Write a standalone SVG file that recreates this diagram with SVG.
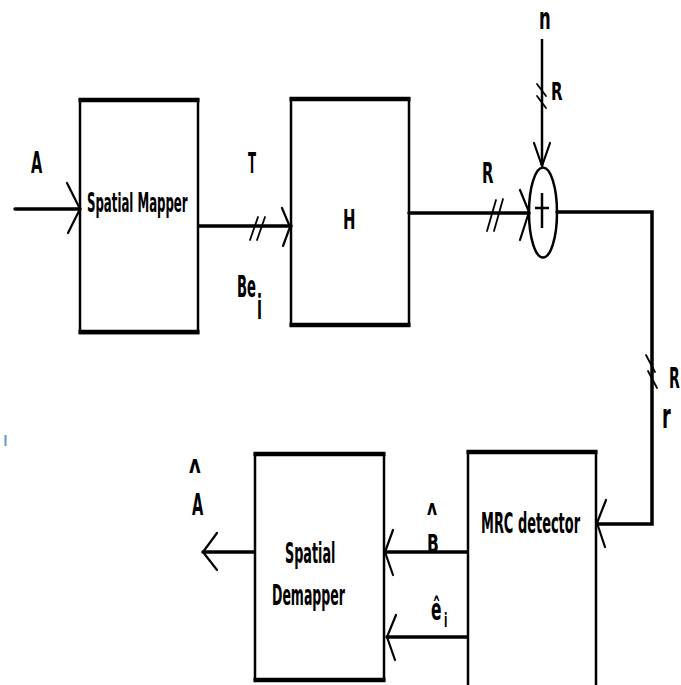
<svg xmlns="http://www.w3.org/2000/svg" width="681" height="685" viewBox="0 0 681 685">
<style>
.box{fill:#fff;stroke:#000;stroke-width:2.5}
.edge{stroke:#000;stroke-width:4.5;fill:none}
.ln{stroke:#000;stroke-width:3.5;fill:none;stroke-linecap:round}
.vl{stroke:#000;stroke-width:2.5;fill:none}
.arm{stroke:#000;stroke-width:2.2;fill:none;stroke-linecap:round;stroke-linejoin:round}
.sl{stroke:#000;stroke-width:1.8;fill:none;stroke-linecap:round}
text{font-family:"DejaVu Sans",sans-serif;font-weight:bold;fill:#000}
</style>
<rect width="681" height="685" fill="#fff"/>
<rect x="4.5" y="435" width="2" height="11" fill="#6b93cc"/>

<g id="mapper">
<rect class="box" x="80" y="100" width="118" height="233"/>
<line class="edge" x1="78.5" y1="100" x2="199.5" y2="100"/>
<line class="edge" x1="78.5" y1="332" x2="199.5" y2="332"/>
<text transform="translate(87,212) scale(0.435,1)" font-size="27">Spatial Mapper</text>
</g>

<g id="channel">
<rect class="box" x="291" y="99" width="118" height="226"/>
<line class="edge" x1="289.5" y1="99" x2="410.5" y2="99"/>
<line class="edge" x1="289.5" y1="325" x2="410.5" y2="325"/>
<text transform="translate(343,229) scale(0.575,1)" font-size="26">H</text>
</g>

<g id="adder">
<ellipse cx="543" cy="212.5" rx="14" ry="45" fill="#fff" stroke="#000" stroke-width="2.5"/>
<line class="vl" x1="542" y1="193" x2="542" y2="228"/>
<line class="vl" x1="535" y1="208" x2="549" y2="208"/>
</g>

<g id="mrc">
<rect class="box" x="468" y="452" width="128" height="240"/>
<line class="edge" x1="466.5" y1="452" x2="597.5" y2="452"/>
<text transform="translate(481,533) scale(0.447,1)" font-size="29">MRC detector</text>
</g>

<g id="demapper">
<rect class="box" x="255" y="454" width="129" height="226"/>
<line class="edge" x1="253.5" y1="454" x2="385.5" y2="454"/>
<line class="edge" x1="253.5" y1="680" x2="385.5" y2="680"/>
<text transform="translate(285,563) scale(0.44,1)" font-size="29">Spatial</text>
<text transform="translate(272,605) scale(0.447,1)" font-size="28">Demapper</text>
</g>

<g id="connectors">
<line class="ln" x1="15" y1="209" x2="80" y2="209"/>
<polyline class="arm" points="67,183 80,209 68,233"/>
<line class="ln" x1="199" y1="226" x2="291" y2="226"/>
<polyline class="arm" points="282,208 290,227 283,246"/>
<line class="sl" x1="250" y1="240" x2="258" y2="217"/>
<line class="sl" x1="257" y1="240" x2="265" y2="217"/>
<line class="ln" x1="409" y1="213" x2="529" y2="213"/>
<polyline class="arm" points="520,190 529,212 520,240"/>
<line class="sl" x1="487" y1="231" x2="496" y2="200"/>
<line class="sl" x1="494" y1="231" x2="503" y2="199"/>
<line class="vl" x1="542" y1="39" x2="542" y2="166"/>
<polyline class="arm" points="534,143 542,166 550,143"/>
<line class="sl" x1="537" y1="84" x2="546" y2="96"/>
<line class="sl" x1="537" y1="96" x2="546" y2="108"/>
<polyline class="ln" points="557,212 652,212 652,524 597,524" stroke-linejoin="miter" stroke-linecap="butt"/>
<polyline class="arm" points="606,500 597,523 605,547"/>
<line class="sl" x1="646" y1="355" x2="655" y2="372"/>
<line class="sl" x1="648" y1="371" x2="657" y2="388"/>
<line class="ln" x1="467" y1="552" x2="385" y2="552"/>
<polyline class="arm" points="393,530 385,552 393,575"/>
<line class="ln" x1="467" y1="637" x2="387" y2="637"/>
<polyline class="arm" points="396,615 387,637 395,660"/>
<line class="ln" x1="254" y1="552" x2="203" y2="552"/>
<polyline class="arm" points="217,533 203,552 217,570"/>
</g>

<g id="labels">
<text transform="translate(31,173) scale(0.47,1)" font-size="31">A</text>
<text transform="translate(248,173) scale(0.42,1)" font-size="28">T</text>
<text transform="translate(237,0) scale(0.44,1)"><tspan x="0" y="297" font-size="30">Be</tspan><tspan x="45.5" y="319" font-size="33">i</tspan></text>
<text transform="translate(482,183) scale(0.53,1)" font-size="28">R</text>
<text transform="translate(539,29) scale(0.53,1)" font-size="31">n</text>
<text transform="translate(551,100) scale(0.6,1)" font-size="25">R</text>
<text transform="translate(669,388) scale(0.5,1)" font-size="28">R</text>
<text transform="translate(662,428) scale(0.52,1)" font-size="34">r</text>
<text transform="translate(427,515) scale(0.7,1)" font-size="22">ʌ</text>
<text transform="translate(427,552) scale(0.62,1)" font-size="25">B</text>
<text transform="translate(431,0) scale(0.5,1)"><tspan x="0" y="620" font-size="31">ê</tspan><tspan x="26" y="627" font-size="20">i</tspan></text>
<text transform="translate(189,473) scale(0.75,1)" font-size="24" font-weight="normal">ʌ</text>
<text transform="translate(192,515) scale(0.47,1)" font-size="31">A</text>
</g>
</svg>
